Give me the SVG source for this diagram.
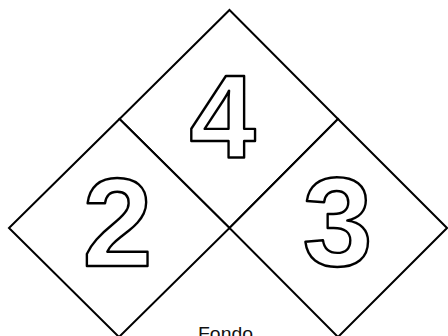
<svg xmlns="http://www.w3.org/2000/svg" width="448" height="336" viewBox="0 0 448 336">
<style>
.d{fill:#fff;stroke:#000;stroke-width:2;stroke-linejoin:miter}
.n{font-family:"Liberation Sans",Arial,sans-serif;font-weight:bold;fill:#fff;stroke:#000;stroke-width:2.4;stroke-linejoin:round;text-anchor:middle}
.t{font-family:"Liberation Sans",Arial,sans-serif;font-size:19px;fill:#111;text-anchor:middle}
</style>
<rect width="448" height="336" fill="#fff"/>
<g id="top">
<path class="d" d="M229.5,10 L338,119 L229.5,228 L119.5,119 Z"/>
<text class="n" x="222.5" y="158" font-size="119">4</text>
</g>
<g id="left">
<path class="d" d="M119.5,119 L229.5,228 L119,337 L9,228 Z"/>
<text class="n" x="117.5" y="266" font-size="126">2</text>
</g>
<g id="right">
<path class="d" d="M338,119 L447,228 L338,337 L229.5,228 Z"/>
<text class="n" x="337.5" y="266" font-size="126">3</text>
</g>
<g id="bottom">
<text class="t" x="225.5" y="339.5" textLength="55" lengthAdjust="spacingAndGlyphs">Fondo</text>
</g>
</svg>
